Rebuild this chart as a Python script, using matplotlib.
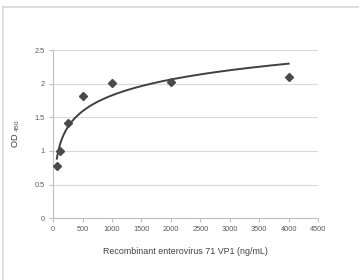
import numpy as np
import matplotlib
matplotlib.use('Agg')
import matplotlib.pyplot as plt
from matplotlib.lines import Line2D
from matplotlib.ticker import FuncFormatter

# data
conc = np.array([62.5, 125, 250, 500, 1000, 2000, 4000])  # ng/mL
od = np.array([0.78, 1.0, 1.41, 1.82, 2.01, 2.02, 2.10])

xticks = [0, 500, 1000, 1500, 2000, 2500, 3000, 3500, 4000, 4500]
yticks = [0, 0.5, 1, 1.5, 2, 2.5]

plt.rcParams['font.family'] = ['Liberation Sans', 'DejaVu Sans']

fig = plt.figure(figsize=(3.59, 2.8), dpi=100)
ax = fig.add_axes([0.148, 0.221, 0.738, 0.600])

# logarithmic trendline (least squares on ln x, like Excel)
a, b = np.polyfit(np.log(conc), od, 1)
xf = np.linspace(conc.min(), conc.max(), 300)
ax.plot(xf, a*np.log(xf) + b, color='#404040', lw=1.4, zorder=3)

ax.plot(conc, od, linestyle='none', marker='D', ms=3.8, color='#4a4a4a',
        mec='#4a4a4a', zorder=4)

ax.set_xlim(0, 4500)
ax.set_ylim(0, 2.5)
ax.set_xticks(xticks)
ax.set_yticks(yticks)
ax.yaxis.set_major_formatter(FuncFormatter(lambda v, p: ('%g' % v)))

ax.grid(axis='y', color='#d9d9d9', lw=0.8)
ax.set_axisbelow(True)
for s in ['top', 'right']:
    ax.spines[s].set_visible(False)
ax.spines['left'].set_color('#bfbfbf')
ax.spines['bottom'].set_color('#bfbfbf')
ax.spines['left'].set_linewidth(0.8)
ax.spines['bottom'].set_linewidth(0.8)
ax.tick_params(axis='both', colors='#bfbfbf', labelcolor='#595959',
               labelsize=5.3, length=3, width=0.8, pad=3)

ax.set_xlabel('Recombinant enterovirus 71 VP1 (ng/mL)', fontsize=6.4,
              color='#404040', labelpad=10)
ax.set_ylabel('OD $_{\\mathregular{450}}$', fontsize=6.6, color='#404040',
              labelpad=9)

# chart frame (left and top edges)
fig.add_artist(Line2D([0.009, 0.009], [0, 0.975], color='#d9d9d9', lw=1.2))
fig.add_artist(Line2D([0.009, 1.0], [0.975, 0.975], color='#d9d9d9', lw=1.2))

fig.savefig('out.png', dpi=100)
